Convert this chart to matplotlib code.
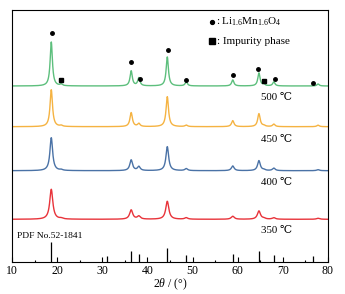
import numpy as np
import matplotlib
matplotlib.use("Agg")
import matplotlib.pyplot as plt

plt.rcParams['font.family'] = ['Liberation Serif', 'DejaVu Serif']
plt.rcParams['mathtext.fontset'] = 'custom'
plt.rcParams['mathtext.rm'] = 'Liberation Serif'
plt.rcParams['mathtext.it'] = 'Liberation Serif:italic'

# Peak positions (2theta, deg)
peak_pos = [18.7, 20.9, 36.4, 38.1, 44.4, 48.6, 58.9, 64.7, 65.8, 68.0, 77.8]
# Peak heights for each temperature (arbitrary units)
h_500 = [44, 1.5, 15, 8, 29, 4, 6, 13, 1.5, 4, 2]
h_450 = [37, 1.0, 14, 3, 30, 1.5, 6, 13, 1.0, 2.5, 1.5]
h_400 = [33, 0.8, 10.7, 4, 24, 2, 4.7, 10, 0.8, 2.5, 1]
h_350 = [30, 0.8, 9.3, 3, 18, 1.5, 3, 8.3, 0.8, 1.5, 1]
widths = {'500': 0.6, '450': 0.65, '400': 0.72, '350': 0.82}
offsets = {'500': 176, '450': 135.3, '400': 91.3, '350': 42.7}
colors = {'500': '#5dbf7d', '450': '#f5b342', '400': '#4a72a6', '350': '#e8333a'}
labels = ['500 \u2103', '450 \u2103', '400 \u2103', '350 \u2103']
label_y = [164, 122, 79.3, 31.3]

# Reference PDF No.52-1841 lines
pdf_pos = [18.7, 31.0, 36.4, 38.1, 44.4, 48.6, 58.9, 64.7, 68.0, 76.7]
pdf_h = [20, 6, 11, 8, 14, 7.5, 8, 11, 7, 6.5]

# Phase markers
dot_pos = [18.8, 36.4, 38.3, 44.5, 48.6, 58.9, 64.6, 68.2, 76.6]
dot_y = [228.7, 199.7, 183, 212.3, 182.3, 186.7, 193.3, 183, 179.3]
sq_pos = [20.9, 65.8]
sq_y = [182, 181.3]

fig = plt.figure(figsize=(3.45, 2.94), dpi=100)
ax = fig.add_axes([12/345, 1-262/294, 316/345, 252/294])

x = np.linspace(10, 80, 3000)

def profile(h, w):
    y = np.zeros_like(x)
    for p, a in zip(peak_pos, h):
        g = (w / 2) ** 2 / ((x - p) ** 2 + (w / 2) ** 2)
        y += a * g
    return y

for key, h in zip(['500', '450', '400', '350'], [h_500, h_450, h_400, h_350]):
    ax.plot(x, offsets[key] + profile(h, widths[key]), color=colors[key], lw=1.0)

for key, lab, ly in zip(['500', '450', '400', '350'], labels, label_y):
    ax.text(68.7, ly, lab, fontsize=7.8, ha='center', va='center')

ax.vlines(pdf_pos, 0, pdf_h, color='black', lw=0.9)
ax.text(11.0, 26, 'PDF No.52-1841', fontsize=6.8, ha='left', va='center')

ax.plot(dot_pos, dot_y, 'o', color='black', ms=2.5)
ax.plot(sq_pos, sq_y, 's', color='black', ms=3.5)

# legend
ax.plot([54.2], [240.3], 'o', color='black', ms=2.8)
ax.text(55.1, 240.3, ': Li$_{1.6}$Mn$_{1.6}$O$_4$', fontsize=8, va='center', ha='left')
ax.plot([54.3], [221], 's', color='black', ms=4.2)
ax.text(55.4, 221, ': Impurity phase', fontsize=8, va='center', ha='left')

ax.set_xlim(10, 80)
ax.set_ylim(0, 252)
ax.set_yticks([])
ax.set_xticks(np.arange(10, 81, 10))
ax.set_xticks(np.arange(15, 80, 10), minor=True)
ax.tick_params(axis='x', which='major', direction='in', length=3.5, width=0.8, labelsize=8.5, pad=2)
ax.tick_params(axis='x', which='minor', direction='in', length=1.8, width=0.8)
for s in ax.spines.values():
    s.set_linewidth(0.8)
ax.set_xlabel(r'2$\it{\theta}$ / (°)', fontsize=8.5, labelpad=0)

fig.savefig('out.png', dpi=100)
